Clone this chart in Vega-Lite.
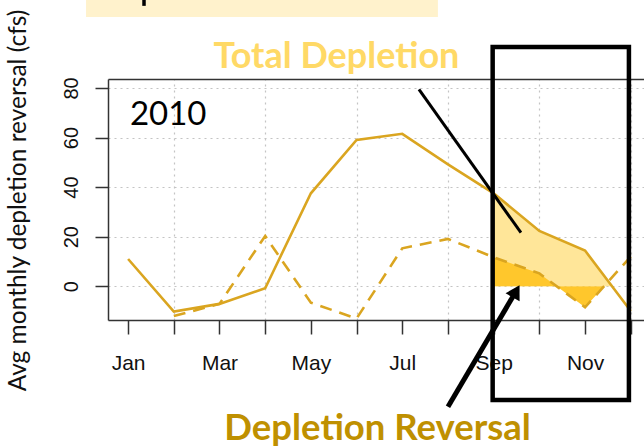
{
  "$schema": "https://vega.github.io/schema/vega-lite/v6.json",
  "autosize": {"type": "none"},
  "padding": {"left": 108, "top": 79, "right": 0, "bottom": 128},
  "width": 536,
  "height": 241,
  "background": "white",
  "config": {"view": {"stroke": null}},
  "datasets": {
    "monthly": [
      {"month": 1, "total": 11.0, "reversal": null},
      {"month": 2, "total": -10.2, "reversal": -12.0},
      {"month": 3, "total": -7.1, "reversal": -7.1},
      {"month": 4, "total": -0.8, "reversal": 20.3},
      {"month": 5, "total": 37.5, "reversal": -6.6},
      {"month": 6, "total": 59.0, "reversal": -13.0},
      {"month": 7, "total": 61.5, "reversal": 15.3},
      {"month": 8, "total": 49.2, "reversal": 19.1},
      {"month": 9, "total": 37.5, "reversal": 11.7},
      {"month": 10, "total": 22.3, "reversal": 5.2},
      {"month": 11, "total": 14.4, "reversal": -8.5},
      {"month": 12, "total": -10.0, "reversal": 12.0}
    ],
    "fillTotal": [
      {"m": 9, "v": 37.5},
      {"m": 10, "v": 22.3},
      {"m": 11, "v": 14.4},
      {"m": 11.6, "v": 0}
    ],
    "fillReversal": [
      {"m": 9, "v": 11.7},
      {"m": 10, "v": 5.2},
      {"m": 11, "v": -8.5},
      {"m": 11.42, "v": 0}
    ]
  },
  "resolve": {"axis": {"x": "independent", "y": "independent"}},
  "layer": [
    {
      "data": {"values": [{"x": 0.079, "x2": 7.78, "y": 115.5, "y2": 108.6}]},
      "mark": {"type": "rect", "color": "#FFF2CC"},
      "encoding": {
        "x": {"field": "x", "type": "quantitative", "scale": {"domain": [0.56, 12.29], "nice": false, "zero": false}, "axis": null},
        "x2": {"field": "x2"},
        "y": {"field": "y", "type": "quantitative", "scale": {"domain": [-13.6, 83.6], "nice": false, "zero": false}, "axis": null},
        "y2": {"field": "y2"}
      }
    },
    {
      "data": {"values": [{"x": 1.348, "y": 115.5, "y2": 113.1}]},
      "mark": {"type": "rule", "color": "black", "strokeWidth": 3.5},
      "encoding": {
        "x": {"field": "x", "type": "quantitative", "axis": null},
        "y": {"field": "y", "type": "quantitative", "axis": null},
        "y2": {"field": "y2"}
      }
    },
    {
      "data": {"name": "fillTotal"},
      "mark": {"type": "area", "color": "#FFE699", "opacity": 1},
      "encoding": {
        "x": {
          "field": "m", "type": "quantitative",
          "axis": {
            "orient": "top", "values": [2, 4, 6, 8, 10, 12], "grid": true,
            "gridColor": "#c4c4c4", "gridDash": [2, 4], "gridWidth": 1.2,
            "ticks": false, "labels": false, "title": null,
            "domain": true, "domainColor": "#333333", "domainWidth": 1.5
          }
        },
        "y": {
          "field": "v", "type": "quantitative",
          "axis": {
            "orient": "left", "values": [0, 20, 40, 60, 80], "grid": true,
            "gridColor": "#c4c4c4", "gridDash": [2, 4], "gridWidth": 1.2,
            "domain": true, "domainColor": "#333333", "domainWidth": 1.5,
            "ticks": true, "tickColor": "#333333", "tickWidth": 1.5, "tickSize": 13,
            "labelAngle": -90, "labelAlign": "center", "labelBaseline": "alphabetic",
            "labelPadding": 18, "labelFont": "Liberation Sans", "labelFontSize": 20,
            "labelColor": "#111111", "labelOverlap": false,
            "title": "Avg monthly depletion reversal (cfs)",
            "titleFont": "Lato", "titleFontSize": 24.5, "titleFontWeight": "normal",
            "titleColor": "#111111", "titleX": -90, "titleY": 121,
            "titleBaseline": "middle", "titleAngle": -90, "titleAlign": "center"
          }
        },
        "y2": {"datum": 0}
      }
    },
    {
      "data": {"name": "fillReversal"},
      "mark": {"type": "area", "color": "#FFC72C", "opacity": 1},
      "encoding": {
        "x": {"field": "m", "type": "quantitative", "axis": null},
        "y": {"field": "v", "type": "quantitative", "axis": null},
        "y2": {"datum": 0}
      }
    },
    {
      "mark": {"type": "rule", "color": "#A6A6A6", "strokeWidth": 2.6},
      "encoding": {"y": {"datum": 0, "type": "quantitative", "axis": null}}
    },
    {
      "data": {"name": "monthly"},
      "mark": {"type": "line", "color": "#DAA520", "strokeWidth": 2.6},
      "encoding": {
        "x": {
          "field": "month", "type": "quantitative",
          "axis": {
            "orient": "bottom", "values": [1, 2, 3, 4, 5, 6, 7, 8, 9, 10, 11, 12],
            "grid": false, "domain": true, "domainColor": "#333333", "domainWidth": 1.5,
            "ticks": true, "tickColor": "#333333", "tickWidth": 1.5, "tickSize": 14,
            "labelExpr": "datum.value % 2 == 1 ? ['Jan','Feb','Mar','Apr','May','Jun','Jul','Aug','Sep','Oct','Nov','Dec'][datum.value - 1] : ''",
            "labelPadding": 18, "labelFont": "Liberation Sans", "labelFontSize": 21,
            "labelColor": "#111111", "labelOverlap": false, "labelFlush": false,
            "labelBaseline": "top", "title": null
          }
        },
        "y": {"field": "total", "type": "quantitative", "axis": null}
      }
    },
    {
      "data": {"name": "monthly"},
      "mark": {"type": "line", "color": "#DAA520", "strokeWidth": 2.6, "strokeDash": [12, 8]},
      "encoding": {
        "x": {"field": "month", "type": "quantitative", "axis": null},
        "y": {"field": "reversal", "type": "quantitative", "axis": null}
      }
    },
    {
      "data": {"values": [{"x": 1.04, "y": 65.0, "label": "2010"}]},
      "mark": {"type": "text", "font": "Lato", "fontSize": 33, "align": "left", "baseline": "alphabetic", "color": "black"},
      "encoding": {
        "x": {"field": "x", "type": "quantitative", "axis": null},
        "y": {"field": "y", "type": "quantitative", "axis": null},
        "text": {"field": "label"}
      }
    },
    {
      "data": {"values": [{"x": 5.56, "y": 88.0, "label": "Total Depletion"}]},
      "mark": {"type": "text", "font": "Lato", "fontSize": 36, "fontWeight": "bold", "align": "center", "baseline": "alphabetic", "color": "#FFD966"},
      "encoding": {
        "x": {"field": "x", "type": "quantitative", "axis": null},
        "y": {"field": "y", "type": "quantitative", "axis": null},
        "text": {"field": "label"}
      }
    },
    {
      "data": {"values": [{"x": 6.46, "y": -62.0, "label": "Depletion Reversal"}]},
      "mark": {"type": "text", "font": "Lato", "fontSize": 36.5, "fontWeight": "bold", "align": "center", "baseline": "alphabetic", "color": "#BF9000"},
      "encoding": {
        "x": {"field": "x", "type": "quantitative", "axis": null},
        "y": {"field": "y", "type": "quantitative", "axis": null},
        "text": {"field": "label"}
      }
    },
    {
      "data": {"values": [{"x": 7.365, "y": 79.4, "x2": 9.597, "y2": 21.6}]},
      "mark": {"type": "rule", "color": "black", "strokeWidth": 3},
      "encoding": {
        "x": {"field": "x", "type": "quantitative", "axis": null},
        "y": {"field": "y", "type": "quantitative", "axis": null},
        "x2": {"field": "x2"},
        "y2": {"field": "y2"}
      }
    },
    {
      "data": {"values": [{"x": 8.0, "y": -48.6, "x2": 9.49, "y2": -2.0}]},
      "mark": {"type": "rule", "color": "black", "strokeWidth": 5},
      "encoding": {
        "x": {"field": "x", "type": "quantitative", "axis": null},
        "y": {"field": "y", "type": "quantitative", "axis": null},
        "x2": {"field": "x2"},
        "y2": {"field": "y2"}
      }
    },
    {
      "data": {"values": [{"x": 9.49, "y": -2.0}]},
      "mark": {"type": "point", "shape": "triangle-up", "filled": true, "color": "black", "opacity": 1, "size": 260, "angle": 30},
      "encoding": {
        "x": {"field": "x", "type": "quantitative", "axis": null},
        "y": {"field": "y", "type": "quantitative", "axis": null}
      }
    },
    {
      "data": {"values": [{"x": 8.978, "x2": 11.96, "y": 96.5, "y2": -45.9}]},
      "mark": {"type": "rect", "filled": false, "stroke": "black", "strokeWidth": 4.5, "fillOpacity": 0},
      "encoding": {
        "x": {"field": "x", "type": "quantitative", "axis": null},
        "x2": {"field": "x2"},
        "y": {"field": "y", "type": "quantitative", "axis": null},
        "y2": {"field": "y2"}
      }
    }
  ]
}
